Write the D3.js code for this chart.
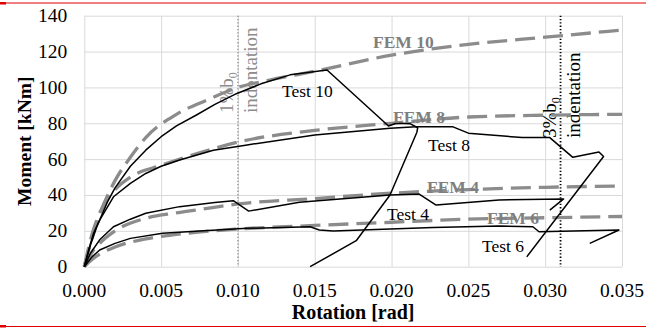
<!DOCTYPE html>
<html>
<head>
<meta charset="utf-8">
<script src="https://cdn.jsdelivr.net/npm/d3@7"></script>
<style>
  body { margin: 0; background: #fff; }
  text { font-family: "Liberation Serif", "Times New Roman", serif; }
  .grid line { stroke: #d9d9d9; stroke-width: 1; }
  .grid .domain { display: none; }
</style>
</head>
<body>
<script>
// chart size
var w = 646;
var h = 329;
var plotL = 84.3, plotT = 15.7, plotR = 622, plotB = 266.7;

// tick values
var xTicks = [0, 0.005, 0.010, 0.015, 0.020, 0.025, 0.030, 0.035];
var yTicks = [0, 20, 40, 60, 80, 100, 120, 140];

// FEM curves: [rotation, moment]
var fem10 = [[0,0],[0.0005,16],[0.001,29],[0.002,48],[0.003,61],[0.004,72],[0.006,85],[0.008,93],[0.010,100],[0.012,104],[0.015,109],[0.020,118],[0.025,124],[0.030,128],[0.035,132]];
var fem8 = [[0,0],[0.0005,18],[0.001,30],[0.002,43],[0.003,50],[0.005,56.5],[0.0075,63.5],[0.010,69.5],[0.015,76],[0.020,80],[0.025,83.5],[0.030,84.5],[0.035,85]];
var fem4 = [[0,0],[0.0005,8],[0.001,13],[0.002,20],[0.004,27],[0.006,30],[0.008,32.5],[0.010,35],[0.015,38],[0.020,41],[0.025,43],[0.030,44.3],[0.035,45]];
var fem6 = [[0,0],[0.0005,4],[0.001,7],[0.002,11],[0.004,15.5],[0.006,18],[0.010,21],[0.015,23],[0.020,24.8],[0.025,26.5],[0.030,27.3],[0.035,28]];

// test curves: [rotation, moment]
var test10 = [[0,0],[0.0004,12],[0.0008,22],[0.0015,36],[0.002,44],[0.003,56],[0.004,65],[0.005,72.5],[0.006,78.5],[0.0073,84.6],[0.0085,90.5],[0.0099,96.5],[0.0115,102],[0.0134,107],[0.0158,109.7],[0.0198,78.5],[0.0203,80],[0.0212,79.8],[0.0217,77.5],[0.02165,75],[0.0199,40],[0.0177,14.5],[0.0147,0]];
var test8 = [[0,0],[0.0003,10],[0.0006,18.6],[0.001,26],[0.0019,39],[0.003,46.5],[0.004,52],[0.005,56],[0.0062,59.5],[0.0084,65],[0.0105,67.8],[0.015,73.5],[0.0199,77.2],[0.0216,78],[0.024,78],[0.025,74.5],[0.0285,72],[0.0303,72],[0.0318,61],[0.0335,64],[0.0338,61.5],[0.0288,5.5]];
var test4 = [[0,0],[0.0004,7.5],[0.001,15],[0.0019,22.3],[0.003,26.5],[0.004,29.8],[0.0062,33.5],[0.0085,35.8],[0.0097,36.8],[0.0107,31],[0.014,35.9],[0.0199,40],[0.0218,40.5],[0.0229,34.4],[0.027,37.2],[0.0312,37.8],[0.0303,31.6]];
var test6 = [[0,0],[0.0005,5.5],[0.001,9.3],[0.002,13],[0.003,15.8],[0.0051,18.6],[0.0075,19.9],[0.0106,21.4],[0.0147,22.3],[0.0153,20.5],[0.0162,19.9],[0.0227,21.8],[0.027,22.7],[0.0292,22.3],[0.0296,19.5],[0.0348,20.5],[0.0329,13]];

var xScale = d3.scaleLinear().domain([0, 0.035]).range([plotL, plotR]);
var yScale = d3.scaleLinear().domain([0, 140]).range([plotB, plotT]);

var svg = d3.select("body").append("svg")
  .attr("width", w)
  .attr("height", h);

// red page rules
svg.append("rect").attr("x", 0).attr("y", 2.5).attr("width", w).attr("height", 1).attr("fill", "#e00000");
svg.append("rect").attr("x", 0).attr("y", 2).attr("width", 6).attr("height", 2.5).attr("fill", "#e00000");
svg.append("rect").attr("x", 0).attr("y", 326).attr("width", w).attr("height", 1).attr("fill", "#e00000");
svg.append("rect").attr("x", 0).attr("y", 325).attr("width", 6).attr("height", 2.5).attr("fill", "#e00000");

// gridlines
svg.append("g").attr("class", "grid")
  .attr("transform", "translate(" + plotL + ",0)")
  .call(d3.axisLeft(yScale).tickValues(yTicks).tickSize(-(plotR - plotL)).tickFormat(""));
svg.append("g").attr("class", "grid")
  .attr("transform", "translate(0," + plotB + ")")
  .call(d3.axisBottom(xScale).tickValues(xTicks).tickSize(-(plotB - plotT)).tickFormat(""));

// tick labels
svg.selectAll(".ylab").data(yTicks).enter().append("text")
  .attr("x", plotL - 17)
  .attr("y", function(d) { return yScale(d) + 6.5; })
  .attr("text-anchor", "end")
  .attr("font-size", "19.5px")
  .text(function(d) { return d; });
svg.selectAll(".xlab").data(xTicks).enter().append("text")
  .attr("x", function(d) { return xScale(d); })
  .attr("y", 296.5)
  .attr("text-anchor", "middle")
  .attr("font-size", "19.5px")
  .text(function(d) { return d.toFixed(3); });

// indentation markers
svg.append("line")
  .attr("x1", xScale(0.010)).attr("x2", xScale(0.010))
  .attr("y1", plotT).attr("y2", plotB)
  .attr("stroke", "#999").attr("stroke-width", 1.5).attr("stroke-dasharray", "1.3,2");
svg.append("line")
  .attr("x1", xScale(0.031)).attr("x2", xScale(0.031))
  .attr("y1", plotT).attr("y2", plotB)
  .attr("stroke", "#000").attr("stroke-width", 1.8).attr("stroke-dasharray", "1.3,2");

function marker(txt, x1, x2, y, color) {
  var t = svg.append("text")
    .attr("transform", "translate(" + x1 + "," + y + ") rotate(-90)")
    .attr("font-size", "19px").attr("fill", color);
  t.append("tspan").text(txt);
  t.append("tspan").text("b");
  t.append("tspan").attr("dy", 4).attr("font-size", "12px").text("0");
  svg.append("text")
    .attr("transform", "translate(" + x2 + "," + y + ") rotate(-90)")
    .attr("font-size", "19px").attr("fill", color)
    .text("indentation");
}
marker("1%", 233, 257, 113, "#8c8c8c");
marker("3%", 556, 580, 138, "#000");

// curves
var line = d3.line()
  .x(function(d) { return xScale(d[0]); })
  .y(function(d) { return yScale(d[1]); });
var smooth = d3.line()
  .x(function(d) { return xScale(d[0]); })
  .y(function(d) { return yScale(d[1]); })
  .curve(d3.curveMonotoneX);

[fem10, fem8, fem4, fem6].forEach(function(s) {
  svg.append("path").datum(s)
    .attr("d", smooth)
    .attr("fill", "none")
    .attr("stroke", "#8c8c8c")
    .attr("stroke-width", 3.3)
    .attr("stroke-dasharray", "20,8");
});
[test10, test8, test4, test6].forEach(function(s) {
  svg.append("path").datum(s)
    .attr("d", line)
    .attr("fill", "none")
    .attr("stroke", "#000")
    .attr("stroke-width", 1.5)
    .attr("stroke-linejoin", "round");
});

// series labels
var femLabels = [["FEM 10", 373, 48], ["FEM 8", 393, 123], ["FEM 4", 427, 193], ["FEM 6", 487, 224]];
femLabels.forEach(function(d) {
  svg.append("text").attr("x", d[1]).attr("y", d[2])
    .attr("font-size", "17.5px").attr("font-weight", "bold").attr("fill", "#7f7f7f")
    .text(d[0]);
});
var testLabels = [["Test 10", 282, 97], ["Test 8", 428, 151], ["Test 4", 387, 220], ["Test 6", 482, 252]];
testLabels.forEach(function(d) {
  svg.append("text").attr("x", d[1]).attr("y", d[2])
    .attr("font-size", "17.5px").attr("fill", "#000")
    .text(d[0]);
});

// axis titles
svg.append("text")
  .attr("x", (plotL + plotR) / 2).attr("y", 319)
  .attr("text-anchor", "middle")
  .attr("font-size", "20px").attr("font-weight", "bold")
  .text("Rotation [rad]");
svg.append("text")
  .attr("transform", "translate(31," + ((plotT + plotB) / 2) + ") rotate(-90)")
  .attr("text-anchor", "middle")
  .attr("font-size", "19.5px").attr("font-weight", "bold")
  .text("Moment [kNm]");
</script>
</body>
</html>
